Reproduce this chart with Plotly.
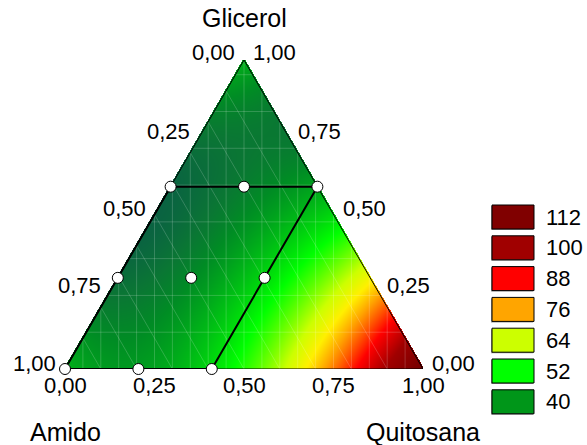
import numpy as np
import plotly.graph_objects as go

# ---------------- data ----------------
# mixture components: Amido (bottom-left), Glicerol (top), Quitosana (bottom-right)
design_amido = [1.0, 0.795, 0.59, 0.705, 0.5, 0.295, 0.41, 0.205, 0.0]
design_glicerol = [0.0, 0.0, 0.0, 0.295, 0.295, 0.295, 0.59, 0.59, 0.59]
design_quitosana = [0.0, 0.205, 0.41, 0.0, 0.205, 0.41, 0.0, 0.205, 0.41]

region_amido = [1.0, 0.59, 0.0, 0.41, 1.0]
region_glicerol = [0.0, 0.0, 0.59, 0.59, 0.0]
region_quitosana = [0.0, 0.41, 0.41, 0.0, 0.0]

# response read at the pure blends, at the binary 50/50 blends and at the centroid
vertex_values = [44, 44, 118]        # Amido, Glicerol, Quitosana
edge_mid_values = [35, 54, 48]       # Amido-Glicerol, Amido-Quitosana, Glicerol-Quitosana
centroid_value = 44

legend_levels = [112, 100, 88, 76, 64, 52, 40]
legend_colors = ["#800000", "#A00000", "#FF0000", "#FFA500", "#CCFF00", "#00FF00", "#009619"]

tick_values = [0.0, 0.25, 0.5, 0.75, 1.0]
tick_text = ["0,00", "0,25", "0,50", "0,75", "1,00"]

# ---------------- geometry helpers ----------------
S = np.sqrt(3) / 2


def to_xy(a, g, q):
    a = np.asarray(a, float); g = np.asarray(g, float); q = np.asarray(q, float)
    tot = a + g + q
    g = g / tot; q = q / tot
    return q + g / 2, g * S


# Scheffe special-cubic model through the read values
b1, b2, b3 = vertex_values
b12 = 4 * edge_mid_values[0] - 2 * b1 - 2 * b2
b13 = 4 * edge_mid_values[1] - 2 * b1 - 2 * b3
b23 = 4 * edge_mid_values[2] - 2 * b2 - 2 * b3
b123 = 27 * (centroid_value - (b1 + b2 + b3) / 3 - (b12 + b13 + b23) / 9)


def model(a, g, q):
    return (b1 * a + b2 * g + b3 * q + b12 * a * g + b13 * a * q + b23 * g * q
            + b123 * a * g * q)


NX, NY = 358, 309
xs = (np.arange(NX) + 0.5) / NX
ys = (np.arange(NY) + 0.5) / NY * S
X, Y = np.meshgrid(xs, ys)
G = Y / S
Q = X - G / 2
A = 1 - Q - G
tol = 0.004
inside = (A > -tol) & (Q > -tol) & (G > -tol)
Ac, Gc, Qc = np.clip(A, 0, 1), np.clip(G, 0, 1), np.clip(Q, 0, 1)
Z = model(Ac, Gc, Qc)
Z = np.where(inside, Z, np.nan)

zmin, zmax = 34.0, 120.0
stops = [(34, "#0A5C44"), (35.5, "#0A6540"), (37.5, "#0A7634"), (40, "#008C24"),
         (52, "#00FF00"), (64, "#CCFF00"), (70, "#FFF000"), (76, "#FFA500"),
         (88, "#FF0000"), (100, "#A00000"), (112, "#800000"), (120, "#700000")]
colorscale = [[(v - zmin) / (zmax - zmin), c] for v, c in stops]

fig = go.Figure()
fig.add_trace(go.Heatmap(x=xs, y=ys, z=Z, colorscale=colorscale, zmin=zmin, zmax=zmax,
                         showscale=False, hoverinfo="skip", zsmooth=False))

# faint mesh lines
mx, my = [], []
for k in range(1, 20):
    x = k * 0.05
    mx += [x, x, None]
    my += [0, np.sqrt(3) * min(x, 1 - x), None]
for k in range(1, 9):
    g = k / 8.4
    x0, y0 = to_xy(1 - g, g, 0)
    x1, y1 = to_xy(0, g, 1 - g)
    mx += [float(x0), float(x1), None]
    my += [float(y0), float(y1), None]
for k in range(1, 10):
    a = k / 10
    x0, y0 = to_xy(a, 0, 1 - a)
    x1, y1 = to_xy(a, 1 - a, 0)
    mx += [float(x0), float(x1), None]
    my += [float(y0), float(y1), None]
fig.add_trace(go.Scatter(x=mx, y=my, mode="lines", hoverinfo="skip",
                         line=dict(color="rgba(255,255,255,0.18)", width=1)))

# triangle outline
tx, ty = to_xy([1, 0, 0, 1], [0, 1, 0, 0], [0, 0, 1, 0])
fig.add_trace(go.Scatter(x=tx, y=ty, mode="lines", line=dict(color="black", width=1),
                         hoverinfo="skip", cliponaxis=False))

# experimental region
rx, ry = to_xy(region_amido, region_glicerol, region_quitosana)
fig.add_trace(go.Scatter(x=rx, y=ry, mode="lines", line=dict(color="black", width=2),
                         hoverinfo="skip", cliponaxis=False))

# design points
px, py = to_xy(design_amido, design_glicerol, design_quitosana)
fig.add_trace(go.Scatter(x=px, y=py, mode="markers", cliponaxis=False,
                         marker=dict(size=11, color="white", line=dict(color="black", width=1))))

font_tick = dict(family="Liberation Sans, Arial, sans-serif", size=22, color="black")
font_title = dict(family="Liberation Sans, Arial, sans-serif", size=25, color="black")
ann = []
for t, lab in zip(tick_values, tick_text):
    # Quitosana along the bottom edge
    x, y = to_xy(1 - t, 0, t)
    ann.append(dict(x=float(x), y=float(y), text=lab, showarrow=False, xanchor="center",
                    yanchor="middle", yshift=-16, font=font_tick))
    # Amido along the left edge
    x, y = to_xy(t, 1 - t, 0)
    ann.append(dict(x=float(x), y=float(y), text=lab, showarrow=False, xanchor="right",
                    yanchor="middle", xshift=-7, yshift=8 if t == 0 else 6, font=font_tick))
    # Glicerol along the right edge
    x, y = to_xy(0, t, 1 - t)
    ann.append(dict(x=float(x), y=float(y), text=lab, showarrow=False, xanchor="left",
                    yanchor="middle", xshift=7, yshift=8 if t == 1 else 6, font=font_tick))

x, y = to_xy(0, 1, 0)
ann.append(dict(x=float(x), y=float(y), text="Glicerol", showarrow=False, xanchor="center",
                yanchor="middle", yshift=42, font=font_title))
x, y = to_xy(1, 0, 0)
ann.append(dict(x=float(x), y=float(y), text="Amido", showarrow=False, xanchor="center",
                yanchor="middle", yshift=-63, font=font_title))
x, y = to_xy(0, 0, 1)
ann.append(dict(x=float(x), y=float(y), text="Quitosana", showarrow=False, xanchor="center",
                yanchor="middle", yshift=-63, font=font_title))

# legend (paper coordinates of the plot area: 358 x 309 px, origin at px (65, 369))
W, H = 358.0, 309.0
shapes = []
for i, (lev, col) in enumerate(zip(legend_levels, legend_colors)):
    top = 205 + i * 30.8
    bx0, bx1 = 492, 534
    shapes.append(dict(type="rect", xref="paper", yref="paper",
                       x0=(bx0 - 1 - 65) / W, x1=(bx1 - 1 - 65) / W,
                       y0=(369 - (top + 25)) / H, y1=(369 - (top + 1)) / H,
                       fillcolor="#9a9a9a", line=dict(width=0), layer="above"))
    shapes.append(dict(type="rect", xref="paper", yref="paper",
                       x0=(bx0 - 65) / W, x1=(bx1 - 65) / W,
                       y0=(369 - (top + 24)) / H, y1=(369 - top) / H,
                       fillcolor=col, line=dict(color="black", width=1), layer="above"))
    ann.append(dict(xref="paper", yref="paper", x=(544 - 65) / W, y=(369 - (top + 12)) / H,
                    text=str(lev), showarrow=False, xanchor="left", yanchor="middle",
                    font=font_tick))

fig.update_layout(
    width=587, height=445, autosize=False,
    margin=dict(l=65, r=164, t=60, b=76, pad=0),
    paper_bgcolor="white", plot_bgcolor="white",
    showlegend=False,
    xaxis=dict(range=[0, 1], visible=False, fixedrange=True),
    yaxis=dict(range=[0, S], visible=False, fixedrange=True),
    annotations=ann, shapes=shapes,
)
fig.write_html("out.html")
